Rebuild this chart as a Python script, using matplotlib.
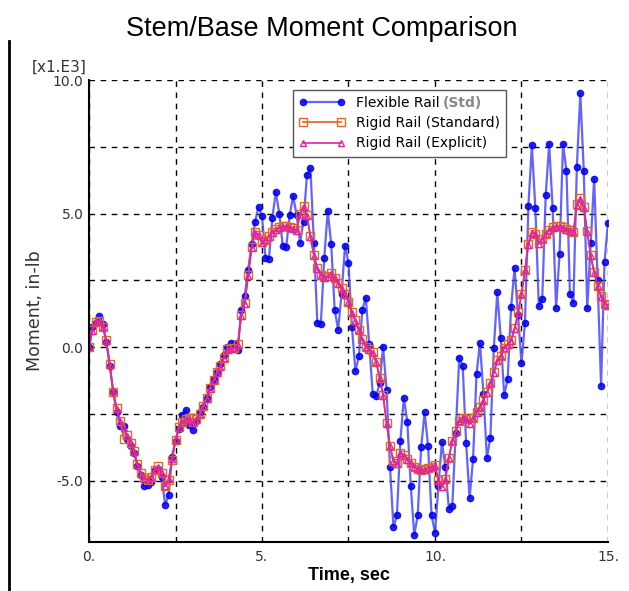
import matplotlib
matplotlib.use('Agg')
import matplotlib.pyplot as plt
import numpy as np
from matplotlib.lines import Line2D

# time axis, sec
time = np.round(np.arange(0, 15.01, 0.1), 2)

# moment values in thousands of in-lb
rigid_std = [
    0.0, 0.64, 0.95, 0.98, 0.76, 0.25, -0.65, -1.67, -2.3, -2.75,
    -3.45, -3.3, -3.58, -3.9, -4.38, -4.72, -4.92, -4.98, -4.88, -4.6,
    -4.45, -4.7, -5.2, -4.98, -4.23, -3.48, -3.0, -2.8, -2.7, -2.66,
    -2.82, -2.7, -2.5, -2.2, -1.92, -1.55, -1.22, -0.95, -0.72, -0.4,
    -0.08, -0.04, -0.03, 0.1, 1.2, 1.65, 2.7, 3.75, 4.3, 4.2,
    3.92, 4.02, 4.15, 4.3, 4.42, 4.48, 4.52, 4.52, 4.48, 4.44,
    4.38, 5.0, 5.3, 4.95, 4.15, 3.45, 2.95, 2.7, 2.62, 2.65,
    2.76, 2.6, 2.4, 2.2, 1.98, 1.7, 1.3, 1.0, 0.65, 0.3,
    0.02, -0.08, -0.2, -0.55, -1.15, -1.8, -2.85, -3.7, -4.25, -4.35,
    -3.95, -4.05, -4.2, -4.33, -4.48, -4.56, -4.6, -4.57, -4.52, -4.48,
    -4.42, -4.98, -5.22, -4.95, -4.15, -3.5, -3.15, -2.75, -2.65, -2.68,
    -2.86, -2.65, -2.45, -2.24, -2.0, -1.7, -1.33, -0.95, -0.5, -0.32,
    -0.02, 0.1, 0.25, 0.7, 1.3, 2.0, 2.9, 3.85, 4.3, 4.25,
    3.88, 4.05, 4.25, 4.4, 4.48, 4.53, 4.53, 4.48, 4.42, 4.38,
    4.32, 5.35, 5.6, 5.25, 4.35, 3.45, 2.8, 2.3, 1.9, 1.62,
    1.57,
]

rigid_exp = [
    0.0, 0.62, 0.93, 0.97, 0.75, 0.22, -0.68, -1.65, -2.32, -2.78,
    -3.02, -3.32, -3.6, -3.92, -4.4, -4.74, -4.93, -4.97, -4.86, -4.58,
    -4.48, -4.72, -5.22, -4.95, -4.2, -3.45, -3.02, -2.82, -2.72, -2.68,
    -2.84, -2.72, -2.52, -2.22, -1.94, -1.57, -1.24, -0.97, -0.74, -0.42,
    -0.1, -0.06, -0.05, 0.08, 1.15, 1.62, 2.66, 3.7, 4.27, 4.18,
    3.9, 4.0, 4.13, 4.28, 4.4, 4.47, 4.51, 4.51, 4.47, 4.43,
    4.36, 4.95, 5.25, 4.92, 4.12, 3.42, 2.93, 2.68, 2.6, 2.63,
    2.74, 2.58, 2.38, 2.18, 1.96, 1.68, 1.28, 0.98, 0.63, 0.28,
    0.0, -0.1, -0.22, -0.57, -1.17, -1.82, -2.87, -3.72, -4.27, -4.37,
    -3.97, -4.07, -4.22, -4.35, -4.5, -4.58, -4.62, -4.59, -4.54, -4.5,
    -4.44, -5.0, -5.24, -4.97, -4.17, -3.52, -3.17, -2.77, -2.67, -2.7,
    -2.88, -2.67, -2.47, -2.26, -2.02, -1.72, -1.35, -0.97, -0.52, -0.34,
    -0.04, 0.08, 0.23, 0.68, 1.27, 1.97, 2.87, 3.82, 4.28, 4.23,
    3.86, 4.03, 4.23, 4.38, 4.46, 4.51, 4.51, 4.46, 4.4, 4.36,
    4.3, 5.3, 5.55, 5.2, 4.32, 3.42, 2.77, 2.28, 1.88, 1.6,
    1.55,
]

flexible = [
    0.0, 0.75, 0.9, 1.15, 0.85, 0.2, -0.7, -1.7, -2.45, -2.95,
    -2.95, -3.45, -3.7, -3.95, -4.45, -4.8, -5.2, -5.15, -5.05, -4.6,
    -4.55, -4.85, -5.9, -5.55, -4.1, -3.5, -3.05, -2.55, -2.35, -2.9,
    -3.1, -2.75, -2.45, -2.25, -1.9, -1.5, -1.2, -0.95, -0.65, -0.3,
    0.0, 0.15, 0.1, -0.1, 1.4, 1.9, 2.9, 3.85, 4.7, 5.25,
    4.9, 3.35, 3.3, 4.85, 5.8, 5.0, 3.8, 3.75, 4.95, 5.65,
    4.95, 3.9, 4.7, 6.45, 6.7, 3.9, 0.9, 0.85, 3.35, 5.1,
    3.85, 1.4, 0.65, 2.0, 3.8, 3.15, 0.75, -0.9, -0.35, 1.4,
    1.85, 0.1, -1.75, -1.85, -1.35, 0.0, -1.6, -4.5, -6.75, -6.3,
    -3.5, -1.9, -2.8, -5.2, -7.05, -6.3, -3.75, -2.45, -3.7, -6.3,
    -6.95, -5.2, -3.55, -4.5, -6.05, -5.95, -3.2, -0.4, -0.7, -3.6,
    -5.65, -4.2, -1.0, 0.15, -1.75, -4.15, -3.4, -0.05, 2.05, 0.35,
    -1.8, -1.2, 1.5, 2.95, 1.2, -0.6, 0.9, 5.3, 7.55, 5.2,
    1.55, 1.8, 5.7, 7.6, 5.2, 1.45, 3.5, 7.6, 6.6, 2.0,
    1.65, 6.75, 9.5, 6.6, 1.45, 3.9, 6.3, 2.5, -1.45, 3.2,
    4.65,
]

x_major = [0, 5, 10, 15]
x_major_labels = ['0.', '5.', '10.', '15.']
y_major = [-5, 0, 5, 10]
y_major_labels = ['-5.0', '0.0', '5.0', '10.0']
x_grid = [2.5, 7.5, 12.5]
y_grid = [-2.5, 2.5, 7.5]

fig = plt.figure(figsize=(6.29, 5.91), dpi=100)
ax = fig.add_axes([0.1415, 0.0829, 0.8251, 0.7817])

ax.plot(time, flexible, color='#4848ff', lw=1.6, alpha=0.85,
        marker='o', ms=4.5, mfc='#0000ee', mec='#0000ee',
        label='Flexible Rail')
ax.plot(time, rigid_std, color='#e06020', lw=1.2,
        marker='s', ms=5.5, mfc='none', mec='#e0682a', mew=1.0,
        label='Rigid Rail (Standard)')
ax.plot(time, rigid_exp, color='#e0259e', lw=1.2,
        marker='^', ms=5, mfc='none', mec='#e0259e', mew=1.0,
        label='Rigid Rail (Explicit)')

ax.set_xlim(0, 15)
ax.set_ylim(-7.3, 10)

ax.set_xticks(x_major)
ax.set_xticklabels(x_major_labels)
ax.set_yticks(y_major)
ax.set_yticklabels(y_major_labels)
ax.set_xticks(x_grid, minor=True)
ax.set_yticks(y_grid, minor=True)
ax.tick_params(which='both', length=0, labelsize=10, labelcolor='#333333')
ax.tick_params(axis='x', pad=6)
ax.tick_params(axis='y', pad=4)

ax.grid(which='both', color='black', linestyle=(0, (4, 4)), linewidth=1)
for side in ['top', 'right']:
    ax.spines[side].set_visible(False)
for side in ['left', 'bottom']:
    ax.spines[side].set_linewidth(1.5)

ax.set_xlabel('Time, sec', fontsize=13, fontweight='bold',
              family='Liberation Sans', labelpad=2)
ax.set_ylabel('Moment, in-lb', fontsize=12.5, color='#333333', labelpad=6)
ax.text(-0.005, 1.012, '[x1.E3]', transform=ax.transAxes, ha='right',
        va='bottom', fontsize=11, color='#333333')

fig.text(0.512, 0.951, 'Stem/Base Moment Comparison', ha='center',
         va='center', fontsize=19.5, family='Liberation Sans')

leg = ax.legend(loc='upper left', bbox_to_anchor=(0.387, 0.985),
                fontsize=10, handlelength=3.3, numpoints=2,
                fancybox=False, framealpha=1, edgecolor='#555555',
                borderpad=0.45, labelspacing=0.45, borderaxespad=0.2)
leg.get_frame().set_linewidth(1.0)

# grey "(Std)" tag right after the first legend entry
fig.canvas.draw()
bb = leg.get_texts()[0].get_window_extent()
fig.text(bb.x1 + 3, (bb.y0 + bb.y1) / 2, '(Std)', ha='left',
         va='center', fontsize=10, color='#888888', fontweight='bold',
         transform=None)

# frame line at the left edge of the figure
fig.add_artist(Line2D([0.015, 0.015], [0, 0.93], color='black', lw=2,
                      transform=fig.transFigure))

fig.savefig('out.png', dpi=100)
